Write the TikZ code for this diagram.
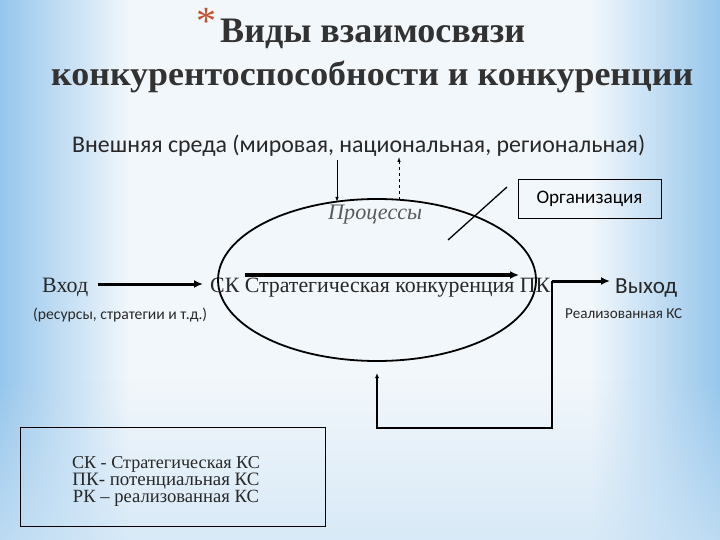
\documentclass[tikz,border=0pt]{standalone}
\usepackage{fontspec}
\setmainfont{Liberation Serif}
\newfontfamily\carl{Carlito}
\usetikzlibrary{arrows.meta,shapes.geometric,fadings}
\definecolor{bgb}{RGB}{150,198,236}
\definecolor{bgm}{RGB}{205,228,246}
\definecolor{bgw}{RGB}{242,247,251}
\definecolor{titlec}{RGB}{50,50,50}
\definecolor{astc}{RGB}{196,80,50}
\definecolor{txt}{RGB}{40,40,40}
\definecolor{proc}{RGB}{90,90,90}
\newcommand{\fw}[2]{\resizebox{#1pt}{!}{#2}}
\tikzset{
  lbl/.style={anchor=base west, inner sep=0pt, text=txt},
  clbl/.style={anchor=base, inner sep=0pt, text=txt},
  thickarr/.style={line width=3pt, -{Latex[length=9pt,width=8pt]}},
  thinarr/.style={line width=0.8pt, -{Latex[length=5pt,width=3.5pt]}},
  framebox/.style={draw=black, line width=0.9pt, inner sep=0pt}
}
\begin{document}
\begin{tikzpicture}[x=1pt,y=-1pt]
\useasboundingbox (0,0) rectangle (720,540);
% background
\fill[left color=bgb, right color=bgw] (0,0) rectangle (130,540);
\fill[bgw] (130,0) rectangle (590,540);
\fill[left color=bgw, right color=bgb] (590,0) rectangle (720,540);
\fill[bgm, path fading=north, fill opacity=0.7] (0,380) rectangle (720,540);

% title
\node[anchor=base west, inner sep=0pt, text=astc, font=\fontsize{40}{40}\selectfont] (ast) at (196,35) {*};
\node[anchor=base west, inner sep=0pt, text=titlec] (t1) at (220,43)
  {\resizebox{305pt}{23.5pt}{\bfseries\fontsize{36}{36}\selectfont Виды взаимосвязи}};
\node[anchor=base west, inner sep=0pt, text=titlec] (t2) at (51,86)
  {\resizebox{642pt}{24.5pt}{\bfseries\fontsize{36}{36}\selectfont конкурентоспособности и конкуренции}};

% environment
\node[lbl] (env) at (72,153)
  {\fw{573}{\carl\fontsize{20}{20}\selectfont Внешняя среда (мировая, национальная, региональная)}};

% ellipse
\node[ellipse, draw=black, line width=1.8pt, minimum width=318pt, minimum height=162pt, inner sep=0pt] (ell) at (377,280) {};
\node[lbl, text=proc] (procl) at (328,219)
  {\fw{94}{\itshape\fontsize{20}{20}\selectfont Процессы}};

% organisation
\node[framebox, minimum width=143pt, minimum height=39pt] (org) at (589.5,198.5)
  {\fw{106}{\carl\fontsize{20}{20}\selectfont Организация}};

% env arrows
\coordinate (d1s) at (337,160);
\coordinate (d1e) at (337,202);
\coordinate (u1s) at (399,200);
\coordinate (u1e) at (399,157);
\draw[thinarr] (d1s) -- (d1e);
\draw[thinarr, dashed] (u1s) -- (u1e);

% slash
\coordinate (sl1) at (448,240);
\coordinate (sl2) at (507,187);
\draw[line width=1.3pt] (sl1) -- (sl2);

% main row
\node[lbl] (vhod) at (42,292) {\fw{46}{\fontsize{20}{20}\selectfont Вход}};
\node[lbl] (main) at (210,292) {\fw{340}{\fontsize{20}{20}\selectfont СК Стратегическая конкуренция ПК}};
\node[lbl] (vyhod) at (615,293) {\fw{62}{\carl\fontsize{20}{20}\selectfont Выход}};
\node[lbl] (res) at (33,319) {\fw{174}{\carl\fontsize{20}{20}\selectfont (ресурсы, стратегии и т.д.)}};
\node[lbl] (real) at (565,318) {\fw{117}{\carl\fontsize{20}{20}\selectfont Реализованная КС}};

\coordinate (inS) at (98,284);
\coordinate (inE) at (203,284);
\coordinate (kS) at (245,275);
\coordinate (kE) at (519,275);
\coordinate (outS) at (552,281);
\coordinate (outE) at (610,281);
\draw[thickarr] (inS) -- (inE);
\draw[thickarr, line width=3.6pt] (kS) -- (kE);
\draw[thickarr] (outS) -- (outE);

% feedback
\coordinate (fbR) at (552,428);
\coordinate (fbL) at (377,428);
\coordinate (fbT) at (377,373);
\draw[line width=1.5pt, -{Latex[length=5pt,width=4pt]}] (outS) -- (fbR) -- (fbL) -- (fbT);

% legend
\node[framebox, minimum width=305pt, minimum height=99pt] (leg) at (172.5,476.5) {};
\node[clbl] (lg1) at (166,468) {\fw{188}{\fontsize{20}{20}\selectfont СК - Стратегическая КС}};
\node[clbl] (lg2) at (166,485) {\fw{187}{\fontsize{20}{20}\selectfont ПК- потенциальная КС}};
\node[clbl] (lg3) at (166,502) {\fw{186}{\fontsize{20}{20}\selectfont РК – реализованная КС}};
\end{tikzpicture}
\end{document}
